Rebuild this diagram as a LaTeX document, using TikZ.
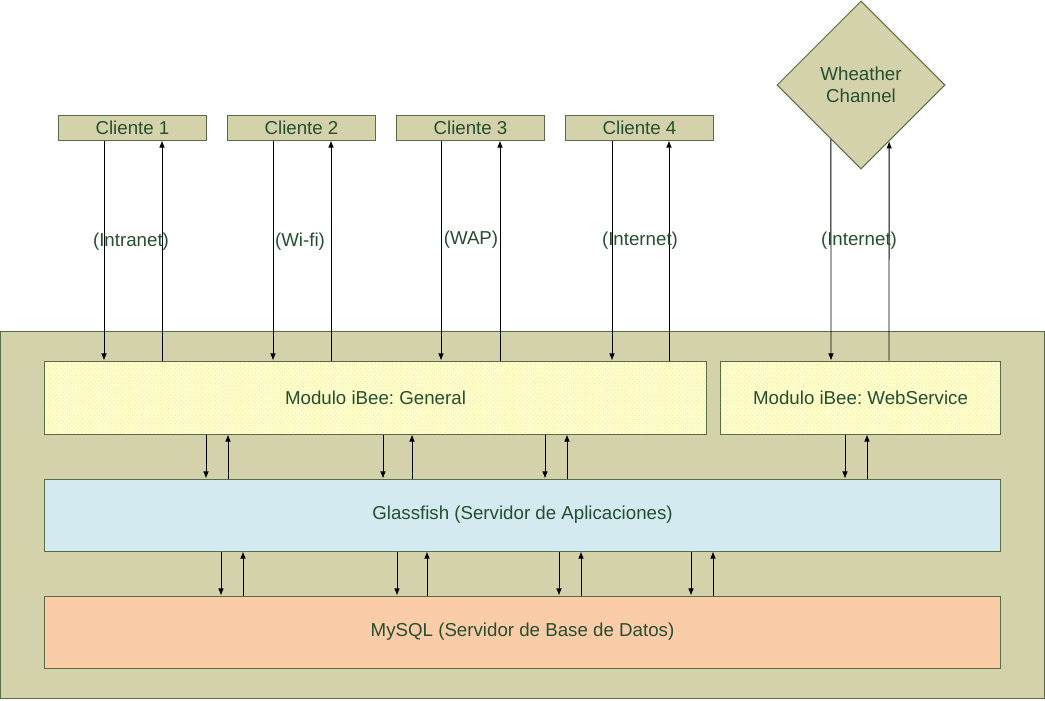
\documentclass[tikz,border=0pt]{standalone}
\usepackage{fontspec}
\setmainfont{Liberation Sans}
\frenchspacing
\usetikzlibrary{arrows.meta,shapes.geometric,patterns,calc}
\definecolor{caja}{RGB}{212,210,170}
\definecolor{borde}{RGB}{88,108,70}
\definecolor{texto}{RGB}{38,78,48}
\definecolor{modulo}{RGB}{255,255,206}
\definecolor{puntos}{RGB}{236,236,160}
\definecolor{glass}{RGB}{210,234,240}
\definecolor{mysql}{RGB}{250,204,168}

\begin{document}
\begin{tikzpicture}[x=0.025cm,y=-0.025cm,>={Latex[length=5pt,width=4pt]},
  every node/.style={text=texto,font=\fontsize{13.3}{16}\selectfont},
  bloque/.style={draw=borde,line width=0.7pt,inner sep=0pt},
  cliente/.style={bloque,fill=caja,minimum width=3.675cm,minimum height=0.625cm},
  capa/.style={bloque,minimum width=23.875cm,minimum height=1.8cm},
  modulo/.style={bloque,preaction={fill=modulo},pattern=crosshatch dots,
    pattern color=puntos,minimum height=1.825cm},
  enlace/.style={->,line width=0.6pt}]
  \useasboundingbox (0,0) rectangle (1045,700);
  % clientes
  \node[cliente] (c1) at (132.5,127.5) {Cliente 1};
  \node[cliente] (c2) at (301.5,127.5) {Cliente 2};
  \node[cliente] (c3) at (470.5,127.5) {Cliente 3};
  \node[cliente] (c4) at (639.5,127.5) {Cliente 4};
  \node[bloque,diamond,fill=caja,aspect=1,minimum width=4.2cm,minimum height=4.2cm,
    align=center] (wc) at (861,85) {Wheather\\Channel};
  % servidor
  \node[bloque,fill=caja,minimum width=26.075cm,minimum height=9.15cm] (srv) at (522.5,515) {};
  \node[modulo,minimum width=16.525cm] (gen) at (375.5,397.5) {Modulo iBee: General};
  \node[modulo,minimum width=6.975cm] (ws) at (860.5,397.5) {Modulo iBee: WebService};
  \node[capa,fill=glass] (gf) at (522.5,515) {Glassfish (Servidor de Aplicaciones)};
  \node[capa,fill=mysql] (db) at (522.5,632) {MySQL (Servidor de Base de Datos)};
  % enlaces clientes
  \draw[enlace] (c1.south -| 104,0) -- (gen.north -| 104,0);
  \draw[enlace] (gen.north -| 162,0) -- (c1.south -| 162,0);
  \draw[enlace] (c2.south -| 273,0) -- (gen.north -| 273,0);
  \draw[enlace] (gen.north -| 331,0) -- (c2.south -| 331,0);
  \draw[enlace] (c3.south -| 441,0) -- (gen.north -| 441,0);
  \draw[enlace] (gen.north -| 500,0) -- (c3.south -| 500,0);
  \draw[enlace] (c4.south -| 612,0) -- (gen.north -| 612,0);
  \draw[enlace] (gen.north -| 669,0) -- (c4.south -| 669,0);
  \draw[enlace] ($(wc.west)!0.643!(wc.south)$) -- (ws.north -| 831,0);
  \draw[enlace] (ws.north -| 889,0) -- ($(wc.east)!0.667!(wc.south)$);
  \node (l1) at (131,242) {(Intranet)};
  \node (l2) at (300,242) {(Wi-fi)};
  \node (l3) at (471,240) {(WAP)};
  \node (l4) at (640,241) {(Internet)};
  \node (l5) at (859,241) {(Internet)};
  % modulos - glassfish
  \draw[enlace] (gen.south -| 206,0) -- (gf.north -| 206,0);
  \draw[enlace] (gf.north -| 228,0) -- (gen.south -| 228,0);
  \draw[enlace] (gen.south -| 383,0) -- (gf.north -| 383,0);
  \draw[enlace] (gf.north -| 412,0) -- (gen.south -| 412,0);
  \draw[enlace] (gen.south -| 545,0) -- (gf.north -| 545,0);
  \draw[enlace] (gf.north -| 567,0) -- (gen.south -| 567,0);
  \draw[enlace] (ws.south -| 845,0) -- (gf.north -| 845,0);
  \draw[enlace] (gf.north -| 867,0) -- (ws.south -| 867,0);
  % glassfish - mysql
  \draw[enlace] (gf.south -| 221,0) -- (db.north -| 221,0);
  \draw[enlace] (db.north -| 243,0) -- (gf.south -| 243,0);
  \draw[enlace] (gf.south -| 397,0) -- (db.north -| 397,0);
  \draw[enlace] (db.north -| 427,0) -- (gf.south -| 427,0);
  \draw[enlace] (gf.south -| 559,0) -- (db.north -| 559,0);
  \draw[enlace] (db.north -| 581,0) -- (gf.south -| 581,0);
  \draw[enlace] (gf.south -| 691,0) -- (db.north -| 691,0);
  \draw[enlace] (db.north -| 713,0) -- (gf.south -| 713,0);
\end{tikzpicture}
\end{document}
